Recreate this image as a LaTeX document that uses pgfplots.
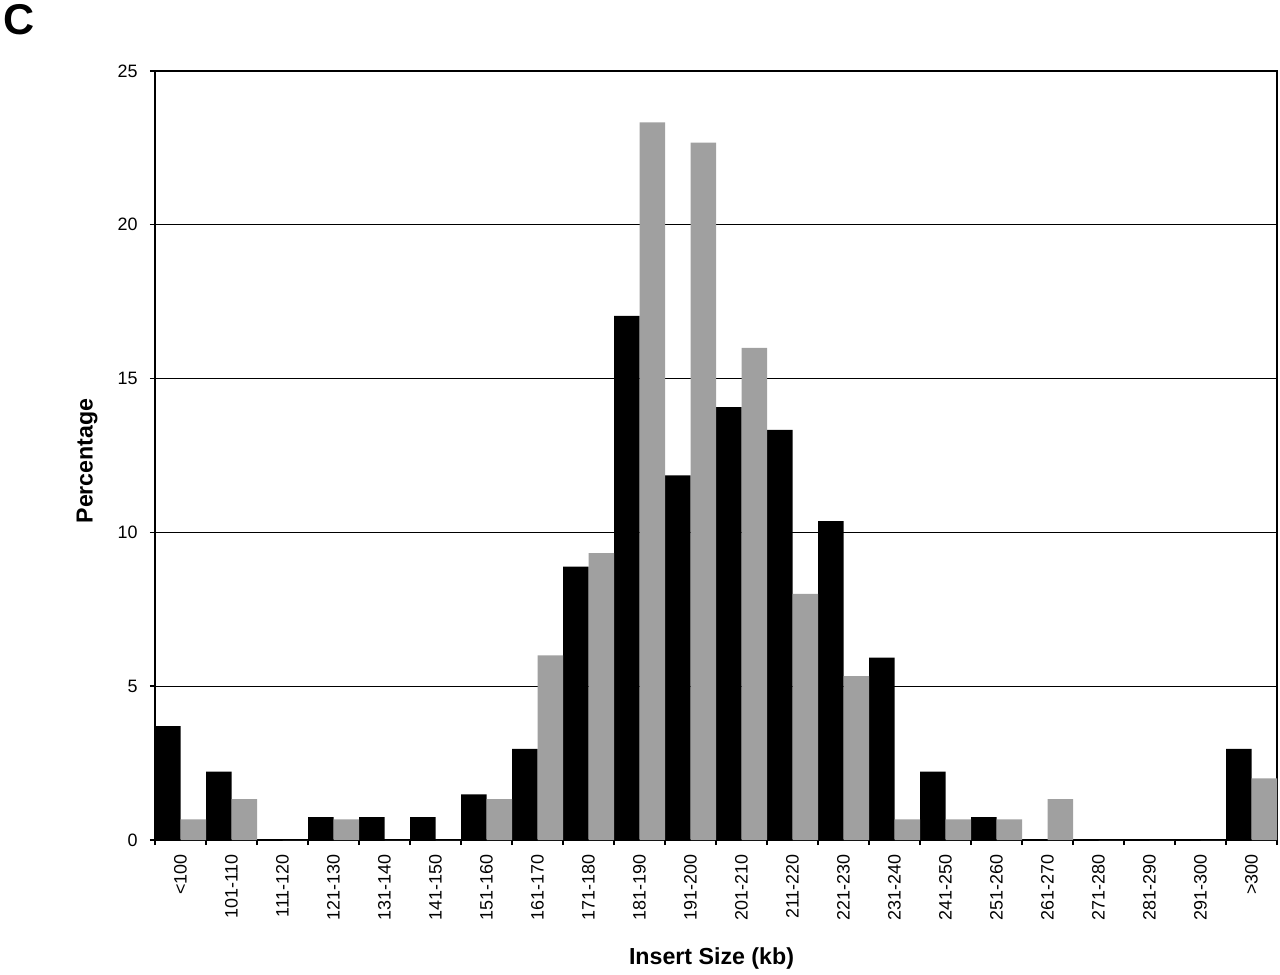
\documentclass[border=0pt]{standalone}
\usepackage{fontspec}
\setmainfont{Liberation Sans}
\usepackage{pgfplots}
\pgfplotsset{compat=1.18}
\definecolor{barg}{RGB}{160,160,160}

\pgfplotstableread{
x blk gry
0 3.70 0.67
1 2.22 1.33
2 0 0
3 0.74 0.67
4 0.74 0
5 0.74 0
6 1.48 1.33
7 2.96 6.00
8 8.89 9.33
9 17.04 23.33
10 11.85 22.67
11 14.07 16.00
12 13.33 8.00
13 10.37 5.33
14 5.93 0.67
15 2.22 0.67
16 0.74 0.67
17 0 1.33
18 0 0
19 0 0
20 0 0
21 2.96 2.00
}\inserts

\begin{document}
\begin{tikzpicture}[x=1cm,y=1cm]
\begin{axis}[
  at={(0,0)}, anchor=south west,
  scale only axis, width=22.44cm, height=15.38cm,
  xmin=-0.5, xmax=21.5, ymin=0, ymax=25,
  xtick={-0.5,0.5,...,21.5},
  x tick label as interval,
  xticklabels={<100,101-110,111-120,121-130,131-140,141-150,151-160,161-170,171-180,181-190,191-200,201-210,211-220,221-230,231-240,241-250,251-260,261-270,271-280,281-290,291-300,>300},
  ytick={0,5,...,25},
  xtick pos=bottom, ytick pos=left,
  tick align=outside, major tick length=0.1cm,
  every tick/.style={black, line width=0.8pt},
  axis line style={line width=1pt},
  ymajorgrids, grid style={black, line width=0.7pt},
  /pgf/number format/assume math mode=true,
  tick label style={font=\fontsize{10.2}{11}\selectfont},
  xticklabel style={rotate=90, anchor=east, inner sep=0pt, xshift=-0.18cm},
  yticklabel style={inner sep=0pt, xshift=-0.24cm},
  ylabel={\bfseries Percentage},
  ylabel style={at={(axis description cs:0,0.493)}, anchor=center, yshift=1.36cm, font=\fontsize{13.2}{14}\selectfont},
  xlabel={\bfseries Insert Size (kb)},
  xlabel style={at={(axis description cs:0.496,0)}, anchor=center, yshift=-2.36cm, font=\fontsize{13.2}{14}\selectfont},
  clip=false,
]
\addplot[ybar, bar width=0.5, bar shift=-0.25, fill=black, draw=none] table[x=x, y=blk] {\inserts};
\addplot[ybar, bar width=0.5, bar shift=0.25, fill=barg, draw=none] table[x=x, y=gry] {\inserts};
\end{axis}
\node[font=\fontsize{24.5}{25}\selectfont\bfseries, anchor=center] at (-2.72,16.4) {C};
\pgfresetboundingbox
\path (-3.1,-2.68) rectangle (22.5,16.8);
\end{tikzpicture}
\end{document}
